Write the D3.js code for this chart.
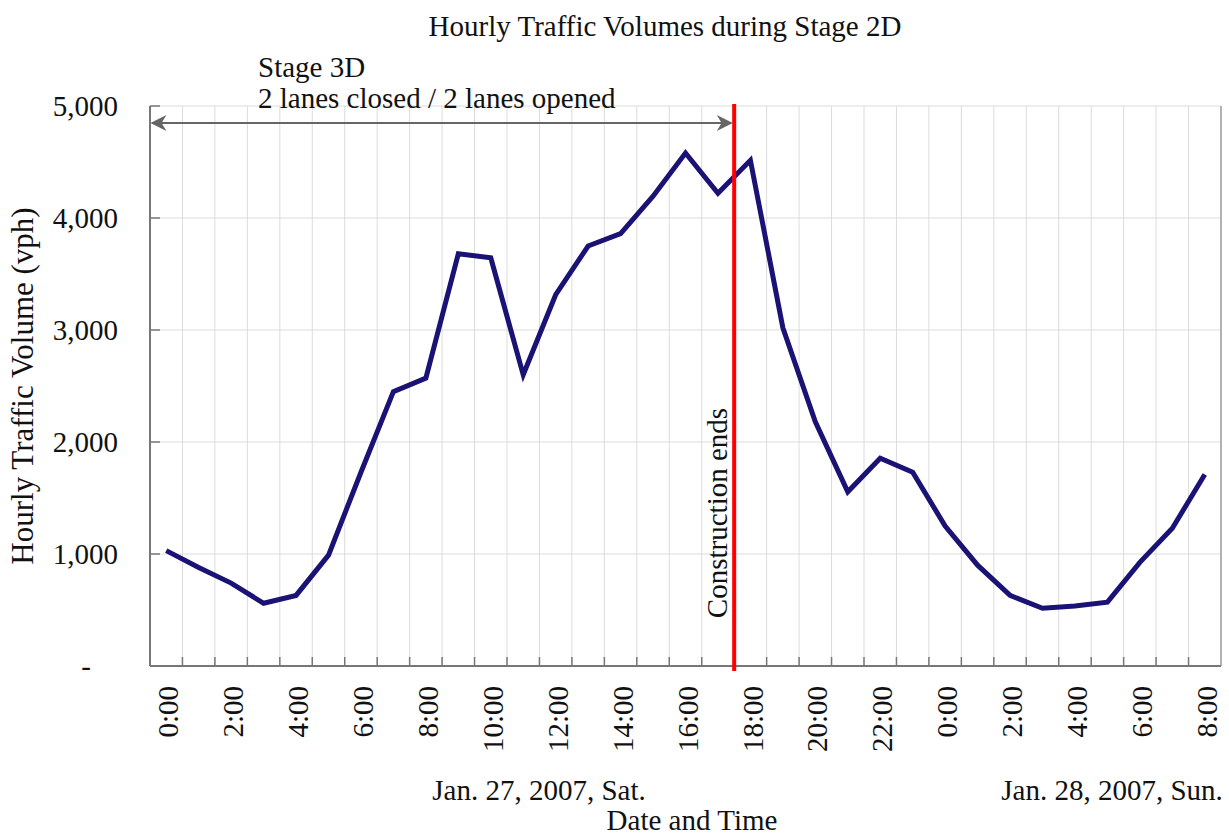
<!DOCTYPE html>
<html>
<head>
<meta charset="utf-8">
<script src="https://cdn.jsdelivr.net/npm/d3@7"></script>
<style>
  body { margin: 0; background: #fff; }
  text { font-family: "Liberation Serif", "Times New Roman", serif; fill: #111; }
</style>
</head>
<body>
<div id="chart"></div>
<script>
// hourly volumes, Jan 27 0:00 through Jan 28 8:00
var hours = ["0:00","1:00","2:00","3:00","4:00","5:00","6:00","7:00","8:00","9:00","10:00","11:00",
    "12:00","13:00","14:00","15:00","16:00","17:00","18:00","19:00","20:00","21:00","22:00","23:00",
    "0:00","1:00","2:00","3:00","4:00","5:00","6:00","7:00","8:00"];
var volumes = [1030, 880, 740, 560, 630, 990, 1730, 2450, 2570, 3680, 3645, 2600,
    3315, 3750, 3860, 4195, 4580, 4220, 4515, 3020, 2180, 1555, 1855, 1730,
    1250, 900, 630, 515, 535, 570, 925, 1230, 1710];
var yTicks = [0, 1000, 2000, 3000, 4000, 5000];
var yTickLabels = ["-", "1,000", "2,000", "3,000", "4,000", "5,000"];
var dayLabels = ["Jan. 27, 2007, Sat.", "Jan. 28, 2007, Sun."];
var constructionEndIndex = 18;   // line drawn at the start of the 18:00 hour

var W = 1229, H = 836;
var margin = {top: 106, right: 8, bottom: 170, left: 150};
var fs = "29px";

var svg = d3.select("#chart").append("svg")
    .attr("width", W)
    .attr("height", H);

var x = d3.scaleBand()
    .domain(d3.range(hours.length))
    .range([margin.left, W - margin.right])
    .padding(0);

var y = d3.scaleLinear()
    .domain([0, 5000])
    .range([H - margin.bottom, margin.top]);

var bw = x.bandwidth();
var x0 = margin.left, x1 = W - margin.right;
var y0 = H - margin.bottom, y1 = margin.top;

// grid
svg.append("g").selectAll("line.vg")
    .data(d3.range(1, hours.length))
    .enter().append("line")
    .attr("x1", function(d) { return x(d); })
    .attr("x2", function(d) { return x(d); })
    .attr("y1", y1).attr("y2", y0)
    .attr("stroke", "#dcdcdc").attr("stroke-width", 1);

svg.append("g").selectAll("line.hg")
    .data(yTicks.slice(1))
    .enter().append("line")
    .attr("x1", x0).attr("x2", x1)
    .attr("y1", function(d) { return y(d); })
    .attr("y2", function(d) { return y(d); })
    .attr("stroke", "#dcdcdc").attr("stroke-width", 1);

// frame
svg.append("line").attr("x1", x0).attr("x2", x0).attr("y1", y1).attr("y2", y0)
    .attr("stroke", "#777").attr("stroke-width", 2);
svg.append("line").attr("x1", x0).attr("x2", x1).attr("y1", y0).attr("y2", y0)
    .attr("stroke", "#777").attr("stroke-width", 2);
svg.append("line").attr("x1", x1).attr("x2", x1).attr("y1", y1).attr("y2", y0)
    .attr("stroke", "#999").attr("stroke-width", 1.5);

// inward tick marks
svg.append("g").selectAll("line")
    .data(d3.range(1, hours.length))
    .enter().append("line")
    .attr("x1", function(d) { return x(d); })
    .attr("x2", function(d) { return x(d); })
    .attr("y1", y0).attr("y2", y0 - 9)
    .attr("stroke", "#777").attr("stroke-width", 1.5);
svg.append("g").selectAll("line")
    .data(yTicks)
    .enter().append("line")
    .attr("x1", x0).attr("x2", x0 + 10)
    .attr("y1", function(d) { return y(d); })
    .attr("y2", function(d) { return y(d); })
    .attr("stroke", "#777").attr("stroke-width", 1.5);

// y tick labels
svg.append("g").selectAll("text")
    .data(yTicks)
    .enter().append("text")
    .attr("x", function(d) { return d === 0 ? 91 : 118; })
    .attr("y", function(d) { return y(d); })
    .attr("dy", "0.35em")
    .attr("text-anchor", "end")
    .style("font-size", fs)
    .text(function(d, i) { return yTickLabels[i]; });

// x tick labels every 2 hours
svg.append("g").selectAll("text")
    .data(d3.range(0, hours.length, 2))
    .enter().append("text")
    .attr("transform", function(d) { return "translate(" + (x(d) + bw / 2 + 2) + "," + (y0 + 20) + ") rotate(-90)"; })
    .attr("dy", "0.35em")
    .attr("text-anchor", "end")
    .style("font-size", fs)
    .text(function(d) { return hours[d]; });

// data line
var line = d3.line()
    .x(function(d, i) { return x(i) + bw / 2; })
    .y(function(d) { return y(d); });

svg.append("path")
    .datum(volumes)
    .attr("d", line)
    .attr("fill", "none")
    .attr("stroke", "#1a1274")
    .attr("stroke-width", 5)
    .attr("stroke-linejoin", "miter");

// construction end marker
var xEnd = x(constructionEndIndex);
svg.append("line")
    .attr("x1", xEnd).attr("x2", xEnd)
    .attr("y1", y1 - 2).attr("y2", y0 + 5)
    .attr("stroke", "#ff0000").attr("stroke-width", 4);

svg.append("text")
    .attr("transform", "translate(" + (xEnd - 7) + "," + 513 + ") rotate(-90)")
    .attr("text-anchor", "middle")
    .style("font-size", fs)
    .text("Construction ends");

// stage arrow
var defs = svg.append("defs");
defs.append("marker")
    .attr("id", "arr")
    .attr("viewBox", "0 0 10 10")
    .attr("refX", 9).attr("refY", 5)
    .attr("orient", "auto-start-reverse")
    .attr("markerUnits", "userSpaceOnUse")
    .attr("markerWidth", 18).attr("markerHeight", 16)
    .append("path")
    .attr("d", "M0,0 L10,5 L0,10 L3,5 Z")
    .attr("fill", "#666");

svg.append("line")
    .attr("x1", x0 + 2).attr("x2", xEnd - 3)
    .attr("y1", 123).attr("y2", 123)
    .attr("stroke", "#666").attr("stroke-width", 2)
    .attr("marker-start", "url(#arr)")
    .attr("marker-end", "url(#arr)");

svg.append("text").attr("x", 258).attr("y", 77)
    .style("font-size", fs).text("Stage 3D");
svg.append("text").attr("x", 258).attr("y", 108)
    .style("font-size", fs).text("2 lanes closed / 2 lanes opened");

// titles
svg.append("text").attr("x", 665).attr("y", 36)
    .attr("text-anchor", "middle")
    .style("font-size", fs)
    .text("Hourly Traffic Volumes during Stage 2D");

svg.append("text")
    .attr("transform", "translate(33,386) rotate(-90)")
    .attr("text-anchor", "middle")
    .style("font-size", "31px")
    .text("Hourly Traffic Volume (vph)");

svg.append("text").attr("x", 539).attr("y", 800)
    .attr("text-anchor", "middle")
    .style("font-size", fs)
    .text(dayLabels[0]);
svg.append("text").attr("x", 1112).attr("y", 800)
    .attr("text-anchor", "middle")
    .style("font-size", fs)
    .text(dayLabels[1]);
svg.append("text").attr("x", 692).attr("y", 830)
    .attr("text-anchor", "middle")
    .style("font-size", fs)
    .text("Date and Time");
</script>
</body>
</html>
